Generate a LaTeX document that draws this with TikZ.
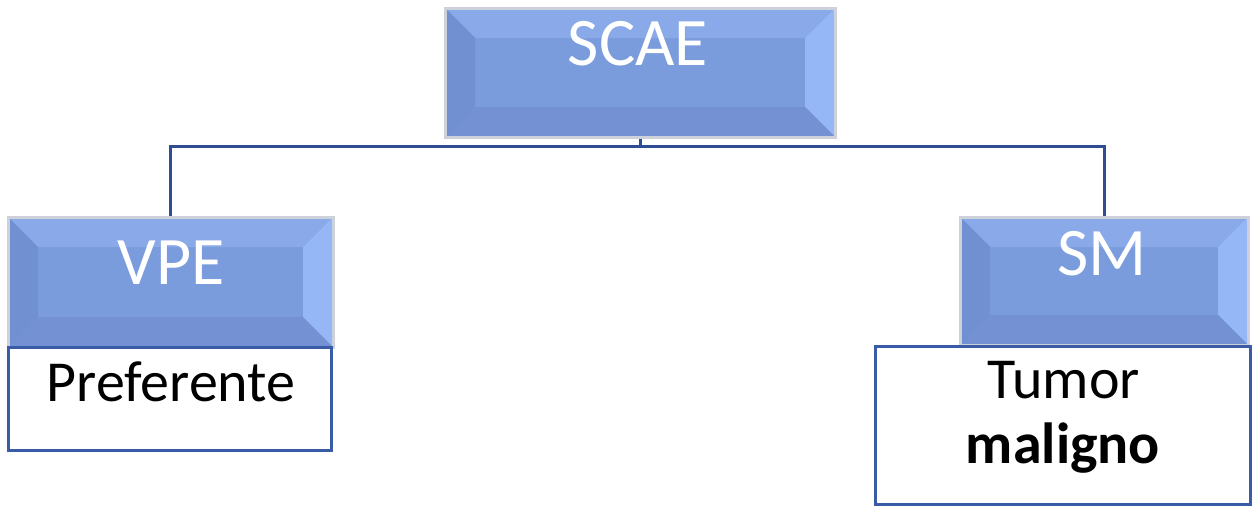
\documentclass[tikz,border=0pt]{standalone}
\usepackage{fontspec}
\setmainfont{Carlito}
\definecolor{mainc}{HTML}{7B9CDC}
\definecolor{topc}{HTML}{89A9E8}
\definecolor{rightc}{HTML}{95B7F6}
\definecolor{leftc}{HTML}{7190D1}
\definecolor{botc}{HTML}{7492D3}
\definecolor{glowc}{HTML}{CDD2DA}
\definecolor{linec}{HTML}{2E4E94}
\definecolor{framec}{HTML}{3A5BA6}
\tikzset{
  bevelbox/.style={draw=glowc, line width=1.5pt, fill=mainc, inner sep=0pt,
    path picture={
      \def\bb{path picture bounding box}
      \fill[topc] (\bb.north west) -- (\bb.north east) -- ([shift={(-15pt,-15pt)}]\bb.north east) -- ([shift={(15pt,-15pt)}]\bb.north west) -- cycle;
      \fill[rightc] (\bb.north east) -- (\bb.south east) -- ([shift={(-15pt,15pt)}]\bb.south east) -- ([shift={(-15pt,-15pt)}]\bb.north east) -- cycle;
      \fill[botc] (\bb.south east) -- (\bb.south west) -- ([shift={(15pt,15pt)}]\bb.south west) -- ([shift={(-15pt,15pt)}]\bb.south east) -- cycle;
      \fill[leftc] (\bb.south west) -- (\bb.north west) -- ([shift={(15pt,-15pt)}]\bb.north west) -- ([shift={(15pt,15pt)}]\bb.south west) -- cycle;
    }},
  textbox/.style={draw=framec, line width=1.5pt, fill=white, inner sep=0pt},
  whitelbl/.style={text=white, font=\fontsize{34}{40}\selectfont, anchor=base, inner sep=0pt},
  blacklbl/.style={text=black, font=\fontsize{29}{34}\selectfont, anchor=base, inner sep=0pt},
  conn/.style={draw=linec, line width=1.5pt}
}
\begin{document}
\begin{tikzpicture}[x=0.5pt,y=-0.5pt]
\useasboundingbox (0,0) rectangle (1258,514);
% blue boxes
\node[bevelbox, minimum width=195pt, minimum height=64.5pt] (scae) at (640,72.5) {};
\node[bevelbox, minimum width=162.5pt, minimum height=65pt] (vpe) at (170.5,282) {};
\node[bevelbox, minimum width=144pt, minimum height=64pt] (sm) at (1104,281) {};
% white boxes
\node[textbox, minimum width=161.5pt, minimum height=51.5pt] (pref) at (170,398.5) {};
\node[textbox, minimum width=187.5pt, minimum height=79pt] (tum) at (1062.5,425) {};
% labels
\node[whitelbl] (scaeT) at (638,65) {SCAE};
\node[whitelbl] (vpeT) at (171,284) {VPE};
\node[whitelbl] (smT) at (1102,275) {SM};
\node[blacklbl] (prefT) at (171,401) {Preferente};
\node[blacklbl] (tumT) at (1064,398) {Tumor};
\node[blacklbl, font=\fontsize{29}{34}\selectfont\bfseries] (malT) at (1063,463) {maligno};
% connectors
\coordinate (j) at (640,146);
\draw[conn] (scae.south) -- (j);
\draw[conn] (j) -| (vpe.north);
\draw[conn] (j) -| (sm.north);
\end{tikzpicture}
\end{document}
